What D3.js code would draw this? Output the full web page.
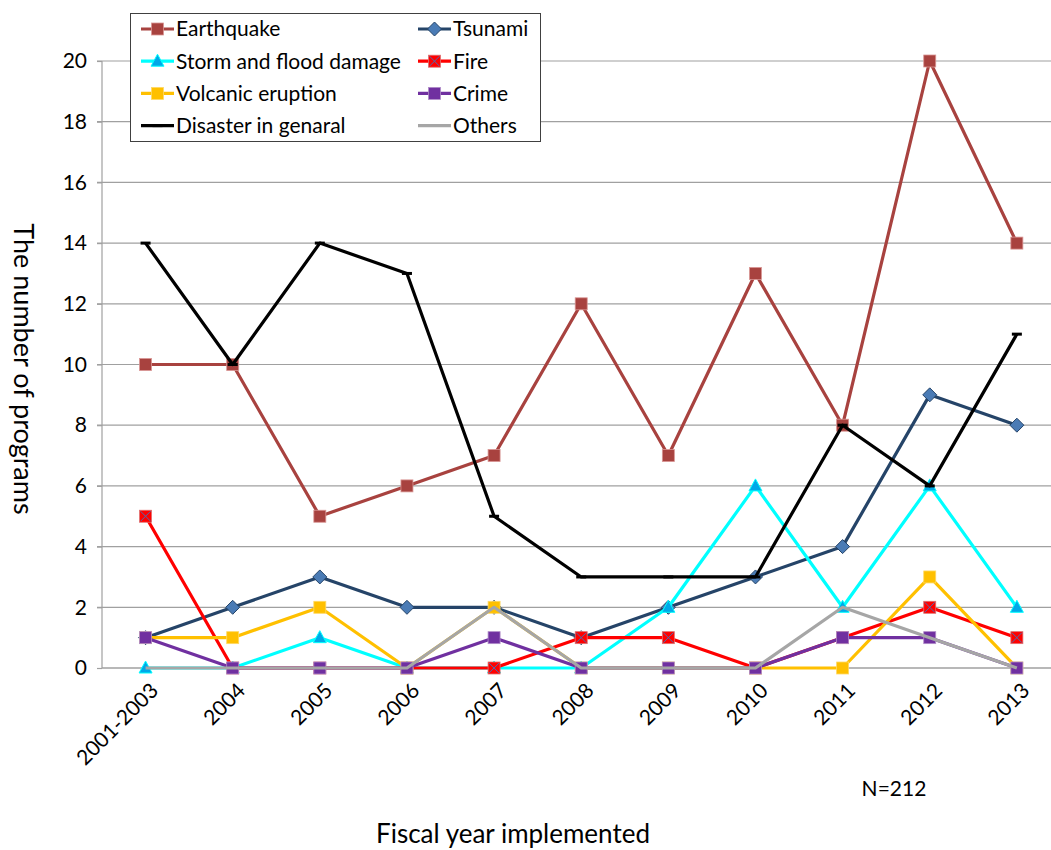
<!DOCTYPE html>
<html>
<head>
<meta charset="utf-8">
<script src="https://cdn.jsdelivr.net/npm/d3@7"></script>
<style>
  html, body { margin: 0; padding: 0; background: #fff; }
  svg { display: block; font-family: Lato, "Open Sans", sans-serif; }
</style>
</head>
<body>
<svg id="chart" width="1051" height="850"></svg>
<script>
// Fiscal years on the x axis
const years = ["2001-2003", "2004", "2005", "2006", "2007", "2008", "2009", "2010", "2011", "2012", "2013"];
const yTicks = [0, 2, 4, 6, 8, 10, 12, 14, 16, 18, 20];

// Number of programs per disaster type
const earthquake = [10, 10, 5, 6, 7, 12, 7, 13, 8, 20, 14];
const tsunami    = [1, 2, 3, 2, 2, 1, 2, 3, 4, 9, 8];
const storm      = [0, 0, 1, 0, 0, 0, 2, 6, 2, 6, 2];
const fire       = [5, 0, 0, 0, 0, 1, 1, 0, 1, 2, 1];
const volcanic   = [1, 1, 2, 0, 2, 0, 0, 0, 0, 3, 0];
const crime      = [1, 0, 0, 0, 1, 0, 0, 0, 1, 1, 0];
const general    = [14, 10, 14, 13, 5, 3, 3, 3, 8, 6, 11];
const others     = [0, 0, 0, 0, 2, 0, 0, 0, 2, 1, 0];

const series = [
  { name: "Earthquake", values: earthquake, line: "#A8423F", marker: "square", fill: "#A8423F", stroke: "#D99694" },
  { name: "Tsunami", values: tsunami, line: "#254468", marker: "diamond", fill: "#4A7BB5", stroke: "#254468" },
  { name: "Storm and flood damage", values: storm, line: "#00FFFF", marker: "triangle", fill: "#00A8E8", stroke: "#00FFFF" },
  { name: "Fire", values: fire, line: "#FF0000", marker: "cross", fill: "#FF0000", stroke: "#E07070" },
  { name: "Volcanic eruption", values: volcanic, line: "#FFC000", marker: "square", fill: "#FFC000", stroke: "#FFD966" },
  { name: "Crime", values: crime, line: "#7030A0", marker: "square", fill: "#7030A0", stroke: "#B08CC8" },
  { name: "Disaster in genaral", values: general, line: "#000000", marker: "dash", fill: "#000000", stroke: "#000000" },
  { name: "Others", values: others, line: "#A6A6A6", marker: "none", fill: "#A6A6A6", stroke: "#A6A6A6" }
];

const svg = d3.select("#chart");

const x = d3.scaleBand().domain(years).range([102, 102 + 11 * 87.13]).paddingInner(0).paddingOuter(0);
const cx = d => x(d) + x.bandwidth() / 2;
const y = d3.scaleLinear().domain([0, 20]).range([668, 61]);

// Horizontal gridlines
svg.append("g")
  .selectAll("line")
  .data(yTicks.filter(t => t > 0))
  .join("line")
  .attr("x1", 97).attr("x2", 1051)
  .attr("y1", d => y(d)).attr("y2", d => y(d))
  .attr("stroke", "#A0A0A0").attr("stroke-width", 1.2);

// Y axis
const yAxis = svg.append("g")
  .attr("transform", "translate(102,0)")
  .call(d3.axisLeft(y).tickValues(yTicks).tickSize(5).tickPadding(10));
yAxis.select(".domain").attr("stroke", "#A0A0A0").attr("stroke-width", 1.2).attr("d", `M-0,${y(0)}V${y(20)}`);
yAxis.selectAll(".tick line").attr("stroke", "#A0A0A0").attr("stroke-width", 1.2);
yAxis.selectAll(".tick text").attr("font-size", 21).attr("fill", "#000").attr("font-family", "Lato, sans-serif");

// X axis
const xAxis = svg.append("g")
  .attr("transform", `translate(0,${y(0)})`)
  .call(d3.axisBottom(x).tickSize(0).tickPadding(0));
xAxis.select(".domain").attr("stroke", "#A0A0A0").attr("stroke-width", 1.5).attr("d", `M102,0H1051`);
xAxis.selectAll(".tick text")
  .attr("font-size", 21).attr("fill", "#000").attr("font-family", "Lato, sans-serif")
  .attr("text-anchor", "end")
  .attr("dy", null).attr("y", null)
  .attr("transform", "translate(14,24) rotate(-45)");

// Lines and markers
const lineGen = d3.line().x((d, i) => cx(years[i])).y(d => y(d));

function drawMarker(g, s, px, py) {
  if (s.marker === "square") {
    g.append("rect").attr("x", px - 6).attr("y", py - 6).attr("width", 12).attr("height", 12)
      .attr("fill", s.fill).attr("stroke", s.stroke).attr("stroke-width", 0.8);
  } else if (s.marker === "diamond") {
    g.append("path").attr("d", `M${px},${py - 7}L${px + 7},${py}L${px},${py + 7}L${px - 7},${py}Z`)
      .attr("fill", s.fill).attr("stroke", s.stroke).attr("stroke-width", 1);
  } else if (s.marker === "triangle") {
    g.append("path").attr("d", `M${px},${py - 7}L${px + 6.5},${py + 5}L${px - 6.5},${py + 5}Z`)
      .attr("fill", s.fill).attr("stroke", s.stroke).attr("stroke-width", 1);
  } else if (s.marker === "cross") {
    g.append("rect").attr("x", px - 6).attr("y", py - 6).attr("width", 12).attr("height", 12)
      .attr("fill", s.fill).attr("stroke", s.stroke).attr("stroke-width", 0.8);
    g.append("path").attr("d", `M${px - 5},${py - 5}L${px + 5},${py + 5}M${px + 5},${py - 5}L${px - 5},${py + 5}`)
      .attr("stroke", "#4A6FB0").attr("stroke-width", 1);
  } else if (s.marker === "dash") {
    g.append("rect").attr("x", px - 5).attr("y", py - 1.5).attr("width", 10).attr("height", 3)
      .attr("fill", s.fill);
  }
}

const plot = svg.append("g");
series.forEach(s => {
  const g = plot.append("g");
  g.append("path").datum(s.values)
    .attr("d", lineGen)
    .attr("fill", "none").attr("stroke", s.line).attr("stroke-width", 3.2)
    .attr("stroke-linejoin", "round");
  s.values.forEach((v, i) => drawMarker(g, s, cx(years[i]), y(v)));
});

// Legend
const legend = svg.append("g");
legend.append("rect").attr("x", 130.5).attr("y", 13.5).attr("width", 410).attr("height", 128)
  .attr("fill", "#fff").attr("stroke", "#404040").attr("stroke-width", 1);
series.forEach((s, i) => {
  const col = i % 2, row = Math.floor(i / 2);
  const lx = col === 0 ? 141 : 418;
  const ly = 29 + row * 32.2;
  const g = legend.append("g");
  g.append("line").attr("x1", lx).attr("x2", lx + 33).attr("y1", ly).attr("y2", ly)
    .attr("stroke", s.line).attr("stroke-width", 3.2);
  drawMarker(g, s, lx + 16.5, ly);
  g.append("text").attr("x", lx + 35).attr("y", ly).attr("dy", "0.35em")
    .attr("font-size", 21).attr("fill", "#000").text(s.name);
});

// Axis titles and note
svg.append("text")
  .attr("transform", "translate(14,369) rotate(90)")
  .attr("text-anchor", "middle").attr("font-size", 27).attr("fill", "#000")
  .text("The number of programs");

svg.append("text")
  .attr("x", 513).attr("y", 843)
  .attr("text-anchor", "middle").attr("font-size", 26).attr("fill", "#000")
  .text("Fiscal year implemented");

svg.append("text")
  .attr("x", 894).attr("y", 796)
  .attr("text-anchor", "middle").attr("font-size", 21).attr("fill", "#000")
  .text("N=212");
</script>
</body>
</html>
